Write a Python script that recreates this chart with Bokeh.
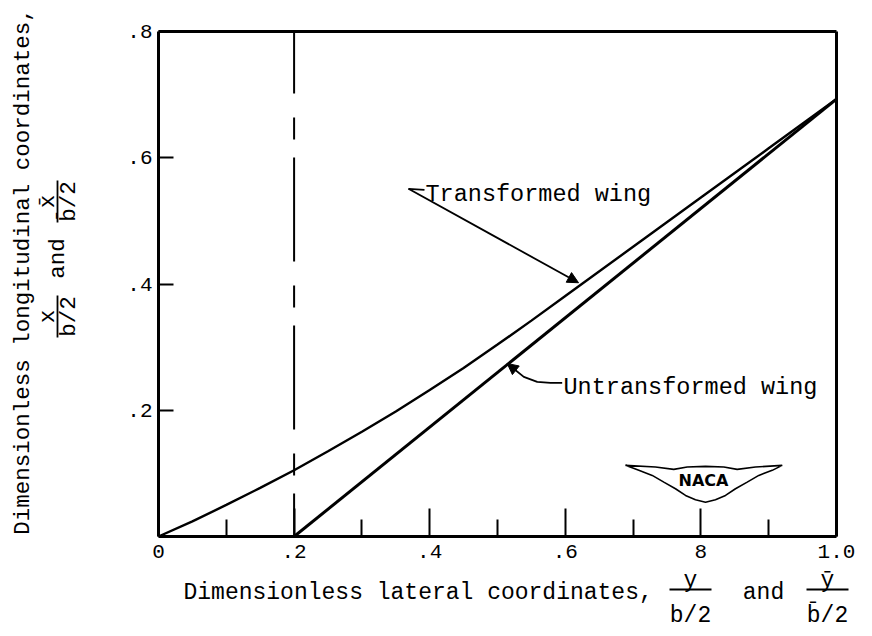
import math
from bokeh.plotting import figure
from bokeh.models import Range1d, FixedTicker, Label, Arrow, NormalHead, LinearAxis
from bokeh.embed import file_html
from bokeh.resources import INLINE

# ---------------- data ----------------
x_ticks = [0.0, 0.2, 0.4, 0.6, 0.8, 1.0]
x_tick_labels = ["0", ".2", ".4", ".6", "8", "1.0"]
x_minor = [0.1, 0.3, 0.5, 0.7, 0.9]
y_ticks = [0.2, 0.4, 0.6, 0.8]
y_tick_labels = [".2", ".4", ".6", ".8"]

# transformed wing (curve from the origin)
trans_x = [0.0, 0.05, 0.1, 0.15, 0.2, 0.25, 0.3, 0.35, 0.4, 0.45, 0.5, 0.55, 0.6,
           0.7, 0.8, 0.9, 1.0]
trans_y = [0.0, 0.024, 0.050, 0.077, 0.105, 0.135, 0.166, 0.198, 0.232, 0.267,
           0.304, 0.342, 0.381, 0.459, 0.537, 0.615, 0.693]
# untransformed wing (straight line)
untrans_x = [0.2, 1.0]
untrans_y = [0.0, 0.693]
# dashed reference line
dash_x = [0.2, 0.2]
dash_y = [0.8, 0.0]

# NACA logo outline
logo_x = [0.6888, 0.7330, 0.7600, 0.7798, 0.8068, 0.8338, 0.8535, 0.8805, 0.9199,
          0.9052, 0.8854, 0.8683, 0.8510, 0.8363, 0.8215, 0.8068, 0.7920, 0.7773,
          0.7625, 0.7453, 0.7282, 0.7084]
logo_y = [0.1127, 0.1100, 0.1063, 0.1100, 0.1111, 0.1100, 0.1063, 0.1100, 0.1127,
          0.1048, 0.0968, 0.0862, 0.0757, 0.0651, 0.0583, 0.0544, 0.0583, 0.0651,
          0.0757, 0.0862, 0.0968, 0.1048]

# annotation leaders
trans_leader_x = [0.3923, 0.3687]
trans_leader_y = [0.5492, 0.5508]
trans_arrow = (0.3687, 0.5508, 0.6195, 0.4020)
untrans_leader_x = [0.5954, 0.5782, 0.5586, 0.5388, 0.5217]
untrans_leader_y = [0.2433, 0.2433, 0.2449, 0.2529, 0.2678]
untrans_arrow = (0.5217, 0.2678, 0.5143, 0.2741)

# ---------------- layout helpers (picture pixel -> data) ----------------
W, H = 864, 628
FX0, FX1 = 158, 836   # x = 0 and x = 1 in pixels
FY0, FY1 = 536, 31    # y = 0 and y = 0.8 in pixels


def dx(px):
    return (px - FX0) / (FX1 - FX0)


def dy(py):
    return (FY0 - py) / (FY0 - FY1) * 0.8


FONT = "Liberation Mono"

p = figure(width=W, height=H, output_backend="svg", toolbar_location=None,
           x_range=Range1d(dx(0), dx(W)), y_range=Range1d(dy(H), dy(0)),
           min_border=0, min_border_left=0, min_border_right=0,
           min_border_top=0, min_border_bottom=0,
           background_fill_color="white", border_fill_color="white")
p.xgrid.visible = False
p.ygrid.visible = False
p.outline_line_color = None

p.xaxis.fixed_location = 0
p.xaxis.bounds = (0, 1)
p.yaxis.fixed_location = 0
p.yaxis.bounds = (0, 0.8)
p.xaxis.ticker = FixedTicker(ticks=x_ticks, minor_ticks=x_minor)
p.xaxis.major_label_overrides = {t: l for t, l in zip(x_ticks, x_tick_labels)}
p.yaxis.ticker = FixedTicker(ticks=y_ticks, minor_ticks=[])
p.yaxis.major_label_overrides = {t: l for t, l in zip(y_ticks, y_tick_labels)}

for ax in (p.xaxis[0], p.yaxis[0]):
    ax.axis_line_width = 3
    ax.axis_line_color = "black"
    ax.major_tick_out = 0
    ax.minor_tick_out = 0
    ax.major_tick_line_width = 2
    ax.minor_tick_line_width = 2
    ax.major_tick_line_color = "black"
    ax.minor_tick_line_color = "black"
    ax.major_label_text_font = FONT
    ax.major_label_text_font_size = "21px"
    ax.major_label_text_color = "black"

p.xaxis.major_tick_in = 28
p.xaxis.minor_tick_in = 17
p.xaxis.major_label_standoff = 8
p.yaxis.major_tick_in = 15
p.yaxis.minor_tick_in = 0
p.yaxis.major_label_standoff = 6

# top and right edges of the box
top_ax = LinearAxis(fixed_location=0.8, bounds=(0, 1), ticker=FixedTicker(ticks=[]),
                    axis_line_width=3, axis_line_color="black",
                    major_tick_line_color=None, minor_tick_line_color=None,
                    major_label_text_font_size="0px")
right_ax = LinearAxis(fixed_location=1.0, bounds=(0, 0.8), ticker=FixedTicker(ticks=[]),
                      axis_line_width=3, axis_line_color="black",
                      major_tick_line_color=None, minor_tick_line_color=None,
                      major_label_text_font_size="0px")
p.add_layout(top_ax, "above")
p.add_layout(right_ax, "right")

# ---------------- curves ----------------
p.line(dash_x, dash_y, line_color="black", line_width=2,
       line_dash="104 24 22 18", line_dash_offset=42)
p.line(trans_x, trans_y, line_color="black", line_width=2.4)
p.line(untrans_x, untrans_y, line_color="black", line_width=3)

# ---------------- annotations ----------------
p.line(trans_leader_x, trans_leader_y, line_color="black", line_width=1.8)
p.add_layout(Arrow(x_start=trans_arrow[0], y_start=trans_arrow[1],
                   x_end=trans_arrow[2], y_end=trans_arrow[3],
                   line_width=1.8, line_color="black",
                   end=NormalHead(size=11, fill_color="black", line_color="black")))
p.line(untrans_leader_x, untrans_leader_y, line_color="black", line_width=1.8)
p.add_layout(Arrow(x_start=untrans_arrow[0], y_start=untrans_arrow[1],
                   x_end=untrans_arrow[2], y_end=untrans_arrow[3],
                   line_width=1.8, line_color="black",
                   end=NormalHead(size=11, fill_color="black", line_color="black")))


def lab(px, py, text, size="23px", align="center", baseline="alphabetic", angle=0.0,
        font=FONT, style="normal"):
    p.add_layout(Label(x=dx(px), y=dy(py), text=text, text_font=font,
                       text_font_size=size, text_align=align, text_font_style=style,
                       text_baseline=baseline, angle=angle, text_color="black"))


def bar(px0, py0, px1, py1, w=1.8):
    p.add_layout(Arrow(x_start=dx(px0), y_start=dy(py0), x_end=dx(px1), y_end=dy(py1),
                       end=None, start=None, line_width=w, line_color="black"))


lab(425, 194, "Transformed wing", size="23.5px", align="left")
lab(563, 387, "Untransformed wing", size="23.5px", align="left")

# NACA logo
p.patch(logo_x, logo_y, fill_color="white", line_color="black", line_width=1.6)
lab(703, 480, "NACA", size="16px", baseline="middle", font="DejaVu Sans", style="bold")

# x-axis title
lab(183, 592, "Dimensionless lateral coordinates,", align="left")
lab(690, 580, "y")
bar(669, 589, 711, 589)
lab(690, 615, "b/2")
lab(763, 592, "and")
lab(827, 580, "y\u0304")
bar(806, 589, 848, 589)
lab(827, 615, "b\u0304/2")

# y-axis title (rotated)
R = math.pi / 2
lab(22, 271, "Dimensionless longitudinal coordinates,", size="22.5px",
    baseline="middle", angle=R)
lab(47, 316, "x", size="22.5px", baseline="middle", angle=R)
bar(57, 295, 57, 337)
lab(68, 316, "b/2", size="22.5px", baseline="middle", angle=R)
lab(57, 258, "and", size="22.5px", baseline="middle", angle=R)
lab(47, 201, "x\u0304", size="22.5px", baseline="middle", angle=R)
bar(57, 180, 57, 222)
lab(68, 201, "b\u0304/2", size="22.5px", baseline="middle", angle=R)

open("out.html", "w").write(file_html(p, INLINE))
